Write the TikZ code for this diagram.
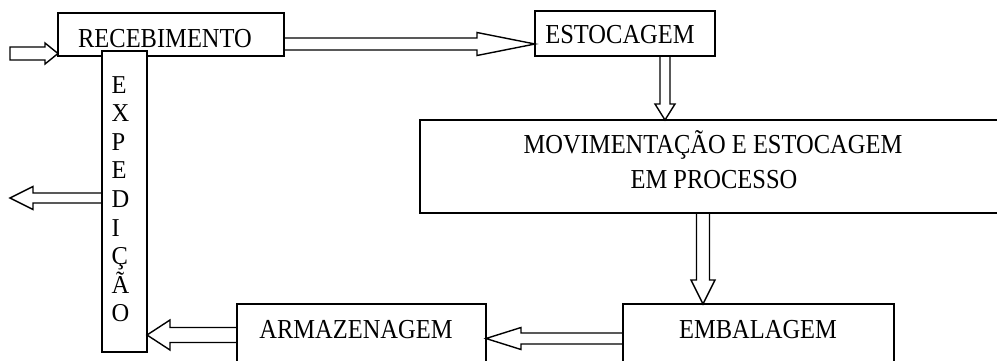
\documentclass[tikz,border=0pt]{standalone}
\usepackage{fontspec}
\setmainfont{Liberation Serif}
\usetikzlibrary{calc}

% slightly tall lettering
\newcommand\tallt[1]{\scalebox{1}[1.12]{#1}}

\tikzset{
  blk/.style={draw, line width=1.4pt, fill=white, inner sep=0pt, outer sep=0pt, anchor=north west},
  lbl/.style={inner sep=0pt, anchor=base, font=\fontsize{24.5}{28.6}\selectfont},
  barrow/.style={draw, line width=1.4pt, line join=miter}
}

% hollow block arrow: start, tip, shaft half-width, head half-width, head length (pt)
\newcommand\blockarrow[5]{%
  \draw[barrow] let \p1=(#1), \p2=(#2),
      \n1={veclen(\x2-\x1,\y2-\y1)}, \n2={atan2(\y2-\y1,\x2-\x1)} in
    {[shift={(\p1)}, rotate=\n2]
     (0pt,-#3pt) -- (\n1-#5pt,-#3pt) -- (\n1-#5pt,-#4pt) -- (\n1,0pt)
     -- (\n1-#5pt,#4pt) -- (\n1-#5pt,#3pt) -- (0pt,#3pt) -- cycle};
}

\begin{document}
\begin{tikzpicture}[x=1pt, y=-1pt]
  \useasboundingbox (0,0) rectangle (997,360);
  \clip (0,0) rectangle (997,360);

  % boxes
  \node[blk, minimum width=226, minimum height=43] (rec) at (58,13) {};
  \node[blk, minimum width=45, minimum height=301] (exp) at (102,51) {};
  \node[blk, minimum width=180, minimum height=45] (esto) at (535,11) {};
  \node[blk, minimum width=600, minimum height=93] (mov) at (420,120) {};
  \node[blk, minimum width=249, minimum height=70] (arm) at (237,304) {};
  \node[blk, minimum width=271, minimum height=70] (emb) at (623,304) {};

  % free ends of the incoming and outgoing arrows
  \coordinate (src) at (10,53.5);
  \coordinate (dst) at (10,198);

  % arrows
  \blockarrow{src}{rec.west |- src}{6.5}{10.5}{13}
  \blockarrow{rec.east |- 0,44}{esto.west |- 0,44}{6}{11.5}{58}
  \blockarrow{esto.south -| 665,0}{mov.north -| 665,0}{5}{10}{16}
  \blockarrow{mov.south -| 703,0}{emb.north -| 703,0}{6.5}{12}{24}
  \blockarrow{emb.west |- 0,338.5}{arm.east |- 0,338.5}{5.5}{11}{35}
  \blockarrow{arm.west |- 0,335}{exp.east |- 0,335}{7.5}{15}{23}
  \blockarrow{exp.west |- dst}{dst}{5}{11.5}{23}

  % labels
  \node[lbl] (trec) at (165,47) {\tallt{RECEBIMENTO}};
  \node[lbl] (testo) at (620,43) {\tallt{ESTOCAGEM}};
  \node[lbl] (tmov1) at (713,153) {\tallt{MOVIMENTAÇÃO E ESTOCAGEM}};
  \node[lbl] (tmov2) at (714,188) {\tallt{EM PROCESSO}};
  \node[lbl] (tarm) at (356,338) {\tallt{ARMAZENAGEM}};
  \node[lbl] (temb) at (758,338) {\tallt{EMBALAGEM}};

  % vertical label, one letter per line
  \foreach \ch [count=\i] in {E,X,P,E,D,I,Ç,Ã,O}
    \node[lbl, anchor=base west] (exp\i) at (111.5, {93+28.6*(\i-1)}) {\scalebox{1}[1.05]{\ch}};
\end{tikzpicture}
\end{document}
